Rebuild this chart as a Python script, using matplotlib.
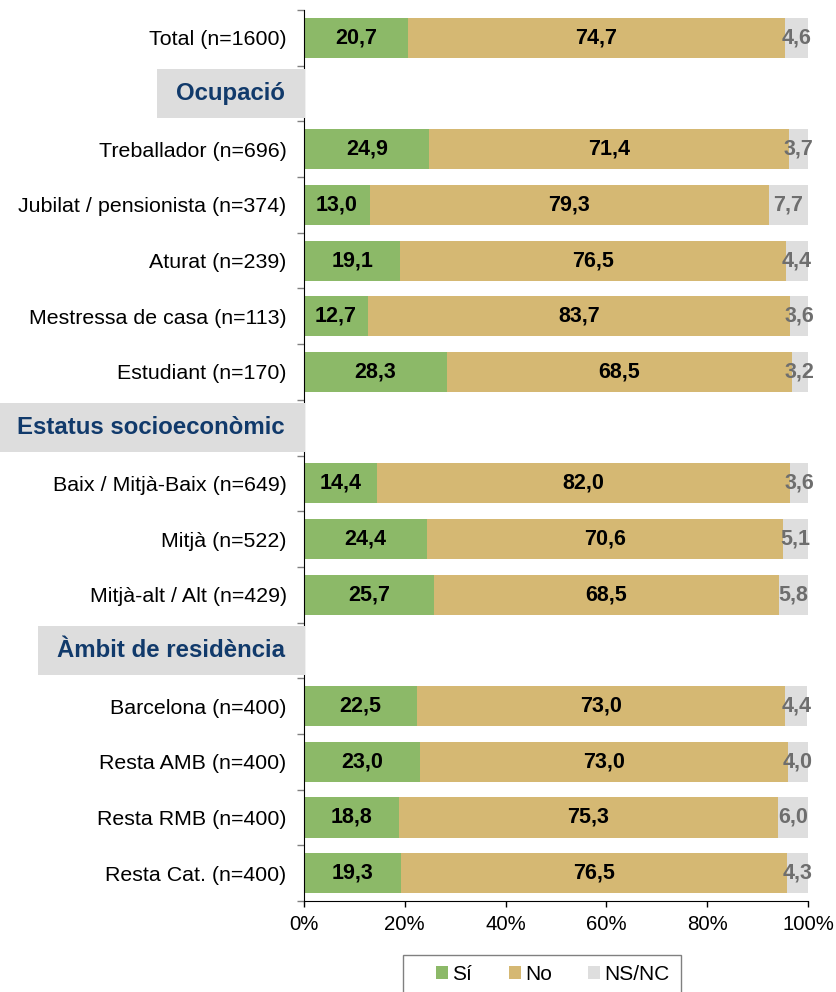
import matplotlib
matplotlib.use("Agg")
import matplotlib.pyplot as plt
import numpy as np
from matplotlib.patches import Patch, Rectangle

plt.rcParams['font.family'] = ['Liberation Sans', 'DejaVu Sans']

labels = ["Total (n=1600)", "Ocupació", "Treballador (n=696)", "Jubilat / pensionista (n=374)",
          "Aturat (n=239)", "Mestressa de casa (n=113)", "Estudiant (n=170)",
          "Estatus socioeconòmic", "Baix / Mitjà-Baix (n=649)", "Mitjà (n=522)",
          "Mitjà-alt / Alt (n=429)", "Àmbit de residència", "Barcelona (n=400)",
          "Resta AMB (n=400)", "Resta RMB (n=400)", "Resta Cat. (n=400)"]
is_header = [False, True, False, False, False, False, False, True, False, False, False, True,
             False, False, False, False]
si = [20.7, None, 24.9, 13.0, 19.1, 12.7, 28.3, None, 14.4, 24.4, 25.7, None, 22.5, 23.0, 18.8, 19.3]
no = [74.7, None, 71.4, 79.3, 76.5, 83.7, 68.5, None, 82.0, 70.6, 68.5, None, 73.0, 73.0, 75.3, 76.5]
nsnc = [4.6, None, 3.7, 7.7, 4.4, 3.6, 3.2, None, 3.6, 5.1, 5.8, None, 4.4, 4.0, 6.0, 4.3]
series_names = ["Sí", "No", "NS/NC"]
colors = ["#8CB968", "#D5B873", "#DEDEDE"]
xticks = [0, 20, 40, 60, 80, 100]

W, H = 836, 992
fig = plt.figure(figsize=(W/100, H/100), dpi=100)
AX_L, AX_R, AX_T, AX_B = 304, 808, 10, 901
ax = fig.add_axes([AX_L/W, 1-AX_B/H, (AX_R-AX_L)/W, (AX_B-AX_T)/H])

n = len(labels)
y = np.arange(n)
bar_h = 0.72

def fmt(v):
    return f"{v:.1f}".replace(".", ",")

for i in range(n):
    if is_header[i]:
        continue
    vals = [si[i], no[i], nsnc[i]]
    left = 0
    for j, v in enumerate(vals):
        ax.barh(y[i], v, left=left, height=bar_h, color=colors[j], edgecolor='none', zorder=2)
        tcol = "#000000" if j < 2 else "#6E6E6E"
        ax.text(left + v/2, y[i], fmt(v), ha='center', va='center', fontsize=15.5,
                fontweight='bold', color=tcol, zorder=4)
        left += v

ax.set_xlim(0, 100)
ax.set_ylim(n - 0.5, -0.5)
ax.set_xticks(xticks)
ax.set_xticklabels([f"{t}%" for t in xticks], fontsize=14.7)
ax.tick_params(axis='x', direction='out', length=4, width=1, color='black', pad=6)

ax.set_yticks(y)
ax.set_yticklabels([l if not h else "" for l, h in zip(labels, is_header)], fontsize=15.4)
ax.tick_params(axis='y', which='major', length=0, pad=12.5)
ax.set_yticks(np.arange(-0.5, n, 1.0), minor=True)
ax.tick_params(axis='y', which='minor', direction='out', length=5, width=1, color='#808080')

for s in ['top', 'right']:
    ax.spines[s].set_visible(False)
ax.spines['left'].set_color('black')
ax.spines['bottom'].set_color('black')

# header labels with grey boxes reaching the axis
header_texts = []
for i in range(n):
    if is_header[i]:
        t = ax.text(-19/(AX_R-AX_L)*100, y[i], labels[i], ha='right', va='center', fontsize=17.3,
                    fontweight='bold', color='#113A6B', clip_on=False, zorder=6)
        header_texts.append((i, t))

fig.canvas.draw()
renderer = fig.canvas.get_renderer()
for i, t in header_texts:
    bb = t.get_window_extent(renderer)
    yc = ax.transData.transform((0, y[i]))[1]
    bh = 49
    x0 = max(bb.x0 - 19, 0)
    x1 = AX_L + 1
    ax.add_patch(Rectangle((x0/W, (yc - bh/2)/H), (x1 - x0)/W, bh/H,
                           transform=fig.transFigure, facecolor='#DDDDDD',
                           edgecolor='none', clip_on=False, zorder=5))

# legend
handles = [Patch(facecolor=c, edgecolor='none') for c in colors]
leg = fig.legend(handles, series_names, loc='upper left', ncol=3,
                 bbox_to_anchor=(436/W, 1-965/H), fontsize=15,
                 frameon=False, handlelength=0.58, handleheight=0.58, handletextpad=0.2,
                 columnspacing=1.75, borderpad=0, borderaxespad=0)
fig.patches.append(Rectangle((403/W, 1-1000/H), (681-403)/W, (1000-955)/H,
                             transform=fig.transFigure, facecolor='none',
                             edgecolor='#808080', linewidth=1, figure=fig))

fig.savefig("out.png", dpi=100)
